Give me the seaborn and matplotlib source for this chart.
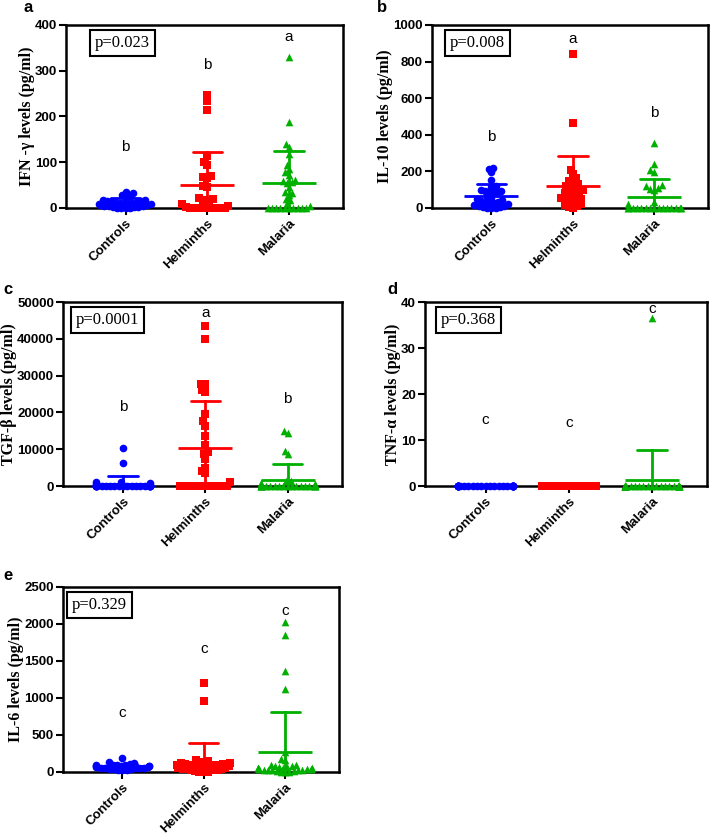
import types
import matplotlib
matplotlib.use('Agg')
import pandas as pd
import matplotlib.pyplot as plt
from matplotlib.collections import PathCollection
import seaborn as sns

groups = ['Controls', 'Helminths', 'Malaria']
palette = {'Controls': '#0000FF', 'Helminths': '#FF0000', 'Malaria': '#00B000'}
marker_of = {'Controls': 'o', 'Helminths': 's', 'Malaria': '^'}

# IFN-gamma (pg/ml)
ifn_controls = [35, 32, 29, 26, 24, 18, 17, 16, 15, 15, 14, 13, 12, 11, 10,
                10, 9, 8, 7, 6, 5, 5, 4, 3, 2, 2, 1, 1, 0, 0]
ifn_helminths = [248, 233, 215, 113, 100, 95, 70, 68, 65, 47, 45, 22, 20, 18,
                 15, 10, 8, 5, 3, 0, 0, 0, 0, 0, 0, 0, 0, 0]
ifn_malaria = [330, 188, 140, 133, 117, 95, 85, 78, 72, 62, 60, 57, 55, 45, 35,
               33, 28, 20, 18, 10, 5, 0, 0, 0, 0, 0, 0, 0, 0, 0, 0]

# IL-10 (pg/ml)
il10_controls = [220, 215, 195, 155, 120, 115, 100, 95, 95, 90, 85, 80, 60, 55,
                 50, 45, 40, 35, 30, 30, 25, 20, 15, 10, 10, 5, 5, 0, 0, 0]
il10_helminths = [840, 465, 210, 185, 165, 150, 145, 130, 120, 115, 110, 100, 95,
                  90, 80, 75, 70, 60, 55, 50, 45, 40, 35, 30, 20, 15, 10, 5, 0]
il10_malaria = [355, 240, 205, 195, 125, 120, 110, 105, 100, 35, 20, 0, 0, 0, 0,
                0, 0, 0, 0, 0, 0, 0, 0, 0, 0, 0]

# TGF-beta (pg/ml)
tgf_controls = [10300, 6200, 1200, 1100, 800, 500, 300, 0, 0, 0, 0, 0, 0, 0, 0,
                0, 0, 0, 0, 0, 0, 0, 0, 0, 0, 0, 0, 0, 0, 0]
tgf_helminths = [43500, 40000, 27800, 27700, 26200, 25500, 19700, 17600, 16400,
                 13700, 11200, 9200, 8700, 7400, 5000, 4200, 3500, 1000, 0, 0,
                 0, 0, 0, 0, 0, 0, 0, 0, 0, 0]
tgf_malaria = [15000, 14300, 9600, 8600, 1500, 1300, 800, 500, 300, 200, 100, 0,
               0, 0, 0, 0, 0, 0, 0, 0, 0, 0, 0, 0, 0, 0, 0, 0, 0, 0]

# TNF-alpha (pg/ml)
tnf_controls = [0, 0, 0, 0, 0, 0, 0, 0, 0, 0, 0, 0, 0, 0, 0,
                0, 0, 0, 0, 0, 0, 0, 0, 0, 0, 0, 0, 0, 0, 0]
tnf_helminths = [0, 0, 0, 0, 0, 0, 0, 0, 0, 0, 0, 0, 0, 0, 0,
                 0, 0, 0, 0, 0, 0, 0, 0, 0, 0, 0, 0, 0, 0, 0]
tnf_malaria = [36.5, 0, 0, 0, 0, 0, 0, 0, 0, 0, 0, 0, 0, 0, 0,
               0, 0, 0, 0, 0, 0, 0, 0, 0, 0, 0, 0, 0, 0, 0]

# IL-6 (pg/ml)
il6_controls = [190, 130, 120, 110, 100, 100, 95, 90, 85, 80, 80, 75, 70, 70, 65,
                60, 60, 55, 50, 50, 45, 40, 35, 30, 25, 20]
il6_helminths = [1200, 960, 160, 150, 130, 125, 120, 115, 110, 105, 100, 100, 95,
                 90, 85, 80, 75, 70, 65, 60, 55, 50, 45, 40, 35, 30, 25, 20, 10,
                 5, 0, 0]
il6_malaria = [2030, 1850, 1370, 1120, 270, 170, 160, 100, 90, 80, 75, 70, 65, 60,
               55, 50, 50, 45, 40, 35, 30, 30, 25, 20, 20, 15, 10, 5, 0, 0]

p_values = ['p=0.023', 'p=0.008', 'p=0.0001', 'p=0.368', 'p=0.329']
letters = [['b', 'b', 'a'], ['b', 'a', 'b'], ['b', 'a', 'b'],
           ['c', 'c', 'c'], ['c', 'c', 'c']]
ylabels = ['IFN -\u03b3 levels (pg/ml)', 'IL-10 levels (pg/ml)',
           'TGF-\u03b2 levels (pg/ml)', 'TNF-\u03b1 levels (pg/ml)',
           'IL-6 levels (pg/ml)']
series = [
    (ifn_controls, ifn_helminths, ifn_malaria),
    (il10_controls, il10_helminths, il10_malaria),
    (tgf_controls, tgf_helminths, tgf_malaria),
    (tnf_controls, tnf_helminths, tnf_malaria),
    (il6_controls, il6_helminths, il6_malaria),
]

# layout: axes rect, y max, y step, letter heights, p-box x, panel tag position
layout = [
    ([0.0928, 0.7518, 0.3896, 0.2184], 400, 100, [133, 313, 374], 0.105, (28, 8)),
    ([0.6076, 0.7518, 0.3882, 0.2184], 1000, 200, [388, 923, 519], 0.065, (382, 8)),
    ([0.0886, 0.4200, 0.3924, 0.2196], 50000, 10000, [21470, 47000, 23600], 0.047, (8, 290)),
    ([0.5977, 0.4200, 0.3966, 0.2196], 40, 10, [14.3, 13.7, 38.5], 0.057, (392, 290)),
    ([0.0886, 0.0788, 0.3880, 0.2208], 2500, 500, [797, 1662, 2176], 0.033, (8, 575)),
]
tags = ['a', 'b', 'c', 'd', 'e']
serif = ['Liberation Serif', 'DejaVu Serif']

sns.set_style('ticks')
plt.rcParams['font.family'] = ['Liberation Sans', 'DejaVu Sans']
plt.rcParams['font.weight'] = 'bold'
for key in ['text.color', 'axes.labelcolor', 'xtick.color', 'ytick.color',
            'axes.edgecolor']:
    plt.rcParams[key] = 'black'

W, H = 711, 838
fig = plt.figure(figsize=(W / 100, H / 100), dpi=100)
swarms = []  # (collection, category position)

for i in range(5):
    rect, ymax, ystep, letter_y, px, tag_pos = layout[i]
    ax = fig.add_axes(rect)
    df = pd.DataFrame({
        'group': [g for g, vals in zip(groups, series[i]) for _ in vals],
        'value': [v for vals in series[i] for v in vals],
    })
    for k, g in enumerate(groups):
        n_before = len(ax.collections)
        sns.swarmplot(data=df[df.group == g], x='group', y='value', order=groups,
                      color=palette[g], marker=marker_of[g], size=3.6,
                      linewidth=0, warn_thresh=1, ax=ax)
        for coll in ax.collections[n_before:]:
            coll.set_clip_on(False)
            swarms.append((coll, k))
    sns.pointplot(data=df, x='group', y='value', hue='group', order=groups,
                  hue_order=groups, palette=palette, errorbar='sd',
                  capsize=0.36, linestyle='none', marker='_', markersize=39,
                  markeredgewidth=2, err_kws={'linewidth': 2}, legend=False,
                  ax=ax)
    ax.set_xlim(-0.73, 2.66)
    ax.set_ylim(0, ymax)
    ax.set_yticks(range(0, ymax + 1, ystep))
    ax.set_xlabel('')
    ax.set_ylabel(ylabels[i], family=serif, fontweight='bold', fontsize=11.5,
                  labelpad=0)
    ax.tick_params(axis='both', width=1.5, length=5, pad=1.5, labelsize=9.5)
    ax.set_xticks(range(3))
    ax.set_xticklabels(groups, rotation=45, ha='right', rotation_mode='anchor',
                       fontweight='bold', fontsize=9.5)
    for spine in ax.spines.values():
        spine.set_visible(True)
        spine.set_linewidth(1.8)
    for k, g in enumerate(groups):
        ax.text(k, letter_y[k], letters[i][k], ha='center', va='center',
                fontsize=11, fontweight='normal')
    ax.text(px, 0.9, p_values[i], transform=ax.transAxes, ha='left',
            va='center', fontsize=12, family=serif, fontweight='normal',
            bbox=dict(boxstyle='square,pad=0.3', fc='white', ec='black', lw=1.5))
    fig.text(tag_pos[0] / W, 1 - tag_pos[1] / H, tags[i], ha='center',
             va='center', fontsize=12, fontweight='bold')

# let seaborn lay out the swarms once, then freeze them and squeeze them a
# bit so the crowded rows overlap like the original dot plots
fig.canvas.draw()
for coll, center in swarms:
    coll.draw = types.MethodType(PathCollection.draw, coll)
    xy = coll.get_offsets().copy()
    xy[:, 0] = center + (xy[:, 0] - center) * 0.82
    coll.set_offsets(xy)
    coll.set_sizes([5.5 ** 2])

fig.savefig('out.png', dpi=100)
